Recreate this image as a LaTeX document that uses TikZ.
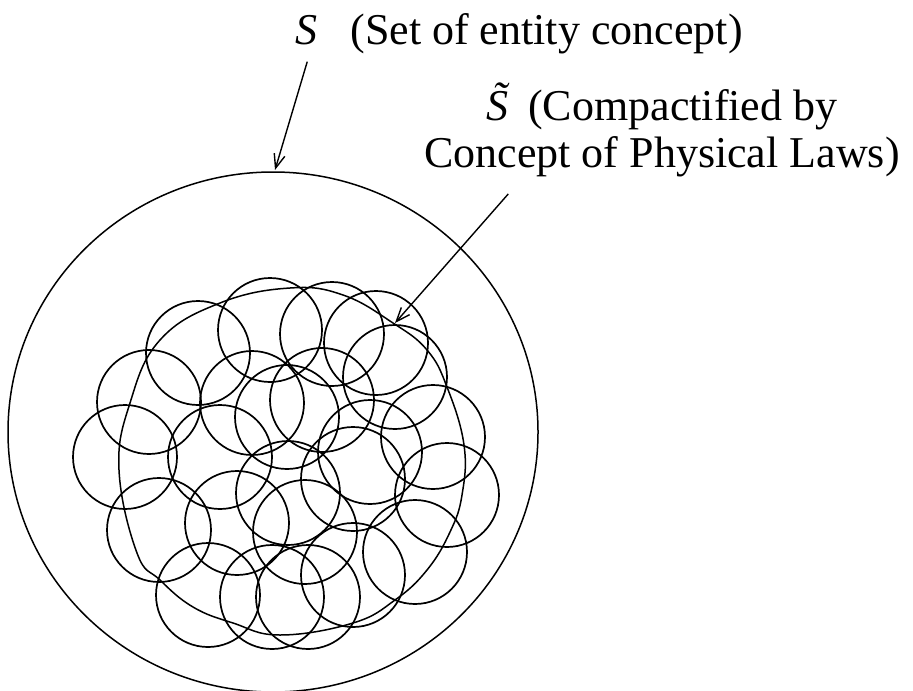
\documentclass[tikz,border=0pt]{standalone}
\usepackage{fontspec}
\setmainfont{Liberation Serif}
\usepackage{tikz}
\usetikzlibrary{arrows.meta}
\tikzset{
  pointer/.style={-{Straight Barb[length=7pt,width=5.5pt]}, line width=0.7pt, shorten <=2pt},
  cell/.style={draw, line width=0.85pt},
  setline/.style={draw, line width=0.75pt},
  caption/.style={inner sep=0pt, font=\fontsize{22}{26}\selectfont}
}
\begin{document}
\begin{tikzpicture}[x=0.5pt, y=-0.5pt]
      \useasboundingbox (0,0) rectangle (913,690);
      % labels
      \node[caption, anchor=base west] (sS) at (295,45) {\textit{S}};
      \node[caption, anchor=base west] (sSdesc) at (350,45) {(Set of entity concept)};
      \node[caption, anchor=base] (tS1) at (662,120) {\textit{\~{S}}\hspace{0.05em}(Compactified by};
      \node[caption, anchor=base] (tS2) at (662,167) {Concept of Physical Laws)};
      % set S
      \draw[setline] (273,432) ellipse[x radius=132.5pt, y radius=130pt];
      % compactified set
      \draw[setline] plot[smooth cycle, tension=0.7] coordinates {
        (290,288) (343,295) (393,323) (427,350) (447,387) (464,445) (462,495)
        (450,532) (427,570) (395,600) (353,623) (280,635) (233,623) (193,607)
        (160,580) (137,553) (119,470) (130,403) (160,340) (220,303)};
      % covering
      \foreach \cx/\cy in {125/457, 149/402, 198/353, 270/330, 332/334, 376/343,
                           395/377, 433/437, 447/495, 415/552, 252/403, 287/417,
                           322/400, 220/457, 370/452, 288/493, 159/530, 237/523,
                           305/532, 353/479, 208/595, 272/597, 308/597, 353/575}
        \draw[cell] (\cx,\cy) circle[radius=26pt];
      \coordinate (outertop) at (275,170);
      \coordinate (innertop) at (395,323);
      \draw[pointer] ([xshift=1pt,yshift=-6pt]sS.south) -- (outertop);
      \draw[pointer] ([xshift=43.5pt,yshift=-7pt]tS2.south west) -- (innertop);
    \end{tikzpicture}
\end{document}
